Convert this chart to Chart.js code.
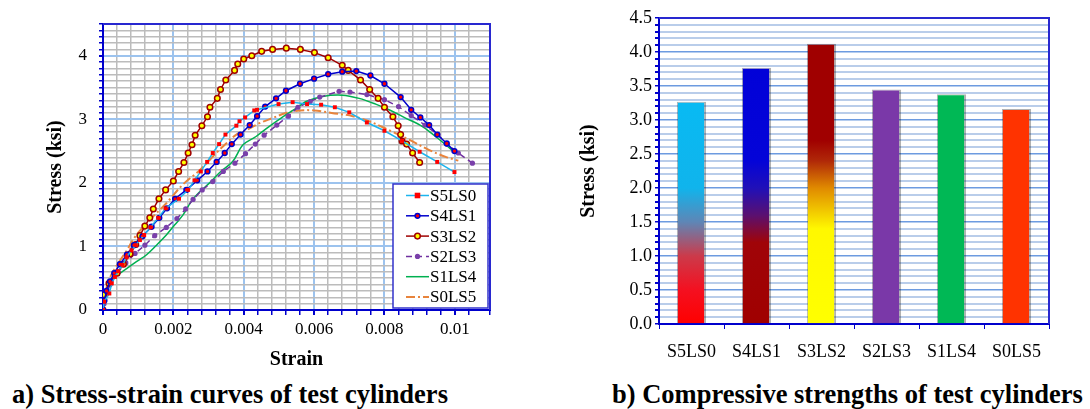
<!DOCTYPE html>
<html>
<head>
<meta charset="utf-8">
<script src="https://cdn.jsdelivr.net/npm/chart.js@4/dist/chart.umd.min.js"></script>
<style>
  body {
    margin: 0;
    background: #fff;
    width: 1090px;
    height: 409px;
    overflow: hidden;
    position: relative;
    font-family: 'Liberation Serif', 'Times New Roman', serif;
  }
  .box { position: absolute; top: 0; height: 375px; }
  #left { left: 0; width: 500px; }
  #right { left: 545px; width: 545px; }
  .caption {
    position: absolute;
    top: 379px;
    line-height: 30px;
    font-weight: bold;
    font-size: 26.5px;
    white-space: nowrap;
    color: #000;
  }
</style>
</head>
<body>
<div class="box" id="left"><canvas id="curves"></canvas></div>
<div class="box" id="right"><canvas id="strengths"></canvas></div>
<div class="caption" style="left:12px">a) Stress-strain curves of test cylinders</div>
<div class="caption" style="left:612px">b) Compressive strengths of test cylinders</div>

<script>
// ---- data ----
const specimens = ["S5LS0", "S4LS1", "S3LS2", "S2LS3", "S1LS4", "S0LS5"];

const s5ls0Strain = [0, 0.00003, 0.00018, 0.00025, 0.00034, 0.00043, 0.00056, 0.00067, 0.00081, 0.00093,
  0.00105, 0.00117, 0.00135, 0.00157, 0.00178, 0.00216, 0.00242, 0.0026, 0.00278, 0.00296,
  0.00312, 0.0033, 0.00348, 0.00379, 0.00388, 0.00404, 0.0043, 0.00438, 0.00499, 0.00539,
  0.0058, 0.0062, 0.00659, 0.007, 0.0075, 0.008, 0.0085, 0.009, 0.0095, 0.00999];
const s5ls0Stress = [0, 0.13, 0.26, 0.42, 0.52, 0.61, 0.71, 0.83, 0.94, 1.02,
  1.1, 1.18, 1.3, 1.45, 1.6, 1.75, 1.89, 2.04, 2.18, 2.33,
  2.47, 2.61, 2.76, 2.9, 2.97, 3.03, 3.14, 3.15, 3.24, 3.27,
  3.24, 3.23, 3.19, 3.11, 2.95, 2.82, 2.66, 2.49, 2.33, 2.17];

const s4ls1Strain = [0, 0.00004, 0.0001, 0.0002, 0.00032, 0.00048, 0.00068, 0.00088, 0.00112, 0.00138,
  0.0016, 0.00182, 0.00205, 0.00237, 0.00268, 0.00297, 0.00323, 0.00346, 0.00366, 0.00391,
  0.00417, 0.00438, 0.00461, 0.00492, 0.0052, 0.0056, 0.006, 0.0064, 0.0068, 0.0072,
  0.0076, 0.008, 0.00846, 0.00876, 0.00902, 0.00927, 0.0095, 0.00977, 0.00999];
const s4ls1Stress = [0, 0.15, 0.3, 0.45, 0.58, 0.72, 0.87, 1.02, 1.16, 1.31,
  1.45, 1.6, 1.75, 1.89, 2.04, 2.18, 2.33, 2.47, 2.61, 2.76,
  2.91, 3.05, 3.2, 3.33, 3.45, 3.56, 3.64, 3.71, 3.75, 3.76,
  3.69, 3.56, 3.35, 3.15, 3.03, 2.91, 2.76, 2.62, 2.5];

const s3ls2Strain = [0, 0.00003, 0.00017, 0.0004, 0.00058, 0.00077, 0.00093, 0.00105, 0.00119, 0.00133,
  0.00143, 0.00159, 0.00178, 0.002, 0.00215, 0.0023, 0.00242, 0.00253, 0.00262, 0.00281,
  0.00297, 0.00304, 0.00325, 0.00334, 0.00349, 0.00374, 0.00383, 0.004, 0.00423, 0.00451,
  0.00482, 0.00521, 0.00561, 0.00601, 0.0064, 0.0068, 0.00697, 0.00732, 0.00758, 0.00782,
  0.008, 0.00824, 0.00839, 0.00846, 0.0085, 0.00863, 0.0088, 0.009];
const s3ls2Stress = [0, 0.24, 0.42, 0.58, 0.72, 0.88, 1.03, 1.17, 1.32, 1.45,
  1.59, 1.75, 1.89, 2.03, 2.18, 2.32, 2.47, 2.6, 2.75, 2.9,
  3.04, 3.19, 3.33, 3.47, 3.62, 3.77, 3.87, 3.95, 4.0, 4.07,
  4.1, 4.12, 4.1, 4.05, 3.97, 3.85, 3.77, 3.62, 3.47, 3.33,
  3.19, 3.04, 2.9, 2.76, 2.66, 2.61, 2.47, 2.32];

const s2ls3Strain = [0, 0.00003, 0.0001, 0.0002, 0.00043, 0.00065, 0.00091, 0.00119, 0.00147, 0.0018,
  0.0021, 0.00235, 0.00256, 0.00282, 0.00312, 0.00342, 0.00375, 0.00405, 0.00433, 0.00458,
  0.00494, 0.00527, 0.00554, 0.00589, 0.00616, 0.00671, 0.00702, 0.0075, 0.008, 0.0084,
  0.00876, 0.00915, 0.00952, 0.00978, 0.0101, 0.0105];
const s2ls3Stress = [0, 0.1, 0.25, 0.4, 0.6, 0.74, 0.89, 1.02, 1.17, 1.3,
  1.44, 1.59, 1.74, 1.89, 2.02, 2.18, 2.31, 2.46, 2.61, 2.75,
  2.91, 3.05, 3.19, 3.28, 3.35, 3.44, 3.43, 3.39, 3.31, 3.2,
  3.06, 2.91, 2.76, 2.61, 2.47, 2.31];

const s1ls4Strain = [0, 0.00005, 0.00015, 0.00034, 0.00062, 0.00095, 0.00124, 0.00152, 0.0018, 0.00204,
  0.00228, 0.00251, 0.00275, 0.00303, 0.00331, 0.00369, 0.00398, 0.00435, 0.00473, 0.00511,
  0.00556, 0.00577, 0.00624, 0.0068, 0.00728, 0.00775, 0.00813, 0.0086, 0.00907, 0.00945,
  0.00974, 0.00995];
const s1ls4Stress = [0, 0.2, 0.39, 0.52, 0.63, 0.76, 0.87, 1.02, 1.18, 1.34,
  1.5, 1.71, 1.86, 2.0, 2.16, 2.34, 2.6, 2.73, 2.89, 3.04,
  3.2, 3.28, 3.36, 3.38, 3.33, 3.24, 3.15, 3.02, 2.89, 2.73,
  2.6, 2.5];

const s0ls5Strain = [0, 0.00005, 0.00015, 0.00039, 0.00067, 0.00091, 0.0013, 0.0018, 0.00228, 0.00275,
  0.00322, 0.0035, 0.00379, 0.00407, 0.00445, 0.00482, 0.0052, 0.0056, 0.006, 0.0065,
  0.0071, 0.00756, 0.00813, 0.0087, 0.00926, 0.00974, 0.0101];
const s0ls5Stress = [0, 0.2, 0.45, 0.7, 0.93, 1.15, 1.4, 1.68, 1.98, 2.2,
  2.47, 2.62, 2.76, 2.83, 2.94, 3.02, 3.1, 3.14, 3.14, 3.1,
  3.05, 2.97, 2.83, 2.68, 2.52, 2.41, 2.35];

const strengths = [3.27, 3.77, 4.12, 3.45, 3.38, 3.16];

// ---- styles ----
const SERIF = "'Liberation Serif', 'Times New Roman', serif";
const AXIS_BLUE = "#0000cc";

const curveStyles = [
  { borderColor: "#1cb4ee", borderWidth: 1.5, pointStyle: "rect", pointRadius: 2.8, pointBackgroundColor: "#ff0000", pointBorderColor: "#ff0000", pointBorderWidth: 0, tension: 0 },
  { borderColor: "#0000cc", borderWidth: 1.5, pointStyle: "circle", pointRadius: 2.4, pointBackgroundColor: "#ff0000", pointBorderColor: "#0000cc", pointBorderWidth: 1.5, tension: 0 },
  { borderColor: "#a00000", borderWidth: 1.5, pointStyle: "circle", pointRadius: 2.8, pointBackgroundColor: "#ffff00", pointBorderColor: "#a00000", pointBorderWidth: 1.5, tension: 0 },
  { borderColor: "#7030a0", borderWidth: 1.5, borderDash: [6, 4], pointStyle: "circle", pointRadius: 2.6, pointBackgroundColor: "#7a40aa", pointBorderColor: "#7a40aa", pointBorderWidth: 0, tension: 0 },
  { borderColor: "#00b050", borderWidth: 1.5, pointRadius: 0, tension: 0.35 },
  { borderColor: "#e8843c", borderWidth: 2, borderDash: [9, 3, 2, 3], pointRadius: 0, tension: 0.35 },
];

const curveData = [
  [s5ls0Strain, s5ls0Stress],
  [s4ls1Strain, s4ls1Stress],
  [s3ls2Strain, s3ls2Stress],
  [s2ls3Strain, s2ls3Stress],
  [s1ls4Strain, s1ls4Stress],
  [s0ls5Strain, s0ls5Stress],
];

// gradient stops for the first three bars, in stress units
const barFills = [
  [[0, "#ff0000"], [0.5, "#f41020"], [1.0, "#cc3a4a"], [1.5, "#5e86b6"], [2.0, "#10b4ec"], [4.5, "#00c0fa"]],
  [[0, "#a00000"], [1.2, "#a00408"], [1.6, "#5a1070"], [2.0, "#2010b8"], [2.4, "#0404d8"], [4.5, "#0000d8"]],
  [[0, "#ffff00"], [1.4, "#fff800"], [2.0, "#e08a00"], [2.4, "#b02808"], [2.7, "#a00000"], [4.5, "#a00000"]],
  "#7a38a8",
  "#00b855",
  "#ff3300",
];

// blue frame on top and right of the plot
const plotFrame = {
  id: "plotFrame",
  afterDatasetsDraw(chart) {
    const { ctx, chartArea: a } = chart;
    ctx.save();
    ctx.strokeStyle = "#2828d0";
    ctx.lineWidth = 2;
    ctx.beginPath();
    ctx.moveTo(a.left, a.top);
    ctx.lineTo(a.right, a.top);
    ctx.lineTo(a.right, a.bottom);
    ctx.stroke();
    ctx.restore();
  },
};

// boxed legend in the lower right corner of the curves plot
const cornerLegend = {
  id: "cornerLegend",
  afterDraw(chart) {
    const { ctx, chartArea: a } = chart;
    const w = 95, h = 124;
    const x0 = a.right - 2 - w, y0 = a.bottom - 2 - h;
    ctx.save();
    ctx.fillStyle = "#fff";
    ctx.fillRect(x0, y0, w, h);
    ctx.strokeStyle = "#3333cc";
    ctx.lineWidth = 1.5;
    ctx.strokeRect(x0, y0, w, h);
    ctx.font = "17px " + SERIF;
    ctx.textBaseline = "middle";
    chart.data.datasets.forEach((ds, i) => {
      const y = y0 + 11.5 + i * 20.3;
      const lx0 = x0 + 13, lx1 = x0 + 36, mx = (lx0 + lx1) / 2;
      ctx.strokeStyle = ds.borderColor;
      ctx.lineWidth = ds.borderWidth;
      ctx.setLineDash(ds.borderDash || []);
      ctx.beginPath();
      ctx.moveTo(lx0, y);
      ctx.lineTo(lx1, y);
      ctx.stroke();
      ctx.setLineDash([]);
      if (ds.pointRadius > 0) {
        const r = ds.pointRadius;
        ctx.fillStyle = ds.pointBackgroundColor;
        ctx.strokeStyle = ds.pointBorderColor;
        ctx.lineWidth = ds.pointBorderWidth;
        ctx.beginPath();
        if (ds.pointStyle === "rect") ctx.rect(mx - r, y - r, 2 * r, 2 * r);
        else ctx.arc(mx, y, r, 0, Math.PI * 2);
        ctx.fill();
        if (ds.pointBorderWidth) ctx.stroke();
      }
      ctx.fillStyle = "#000";
      ctx.fillText(ds.label, x0 + 37, y + 1);
    });
    ctx.restore();
  },
};

Chart.defaults.font.family = SERIF;
Chart.defaults.color = "#000";

new Chart(document.getElementById("curves"), {
  type: "scatter",
  data: {
    datasets: specimens.map((name, i) => ({
      label: name,
      data: curveData[i][0].map((x, j) => ({ x: x, y: curveData[i][1][j] })),
      showLine: true,
      fill: false,
      ...curveStyles[i],
    })),
  },
  options: {
    responsive: true,
    maintainAspectRatio: false,
    animation: false,
    layout: { padding: { top: 24, right: 10, left: 0, bottom: 0 } },
    plugins: { legend: { display: false }, tooltip: { enabled: false } },
    scales: {
      x: {
        type: "linear",
        min: 0,
        max: 0.011,
        afterFit: (s) => { s.height = 65; },
        ticks: {
          stepSize: 0.0004,
          autoSkip: false,
          maxRotation: 0,
          padding: 4,
          font: { size: 17 },
          callback: (v) => (Math.round(v * 10000) % 20 === 0 ? String(+v.toFixed(3)) : ""),
        },
        grid: {
          color: (c) => (Math.round(c.tick.value * 10000) % 20 === 0 ? "#9cc3ee" : "#bcbcbc"),
          lineWidth: (c) => (Math.round(c.tick.value * 10000) % 20 === 0 ? 2 : 1.5),
          tickColor: AXIS_BLUE,
          tickLength: 5,
        },
        border: { color: AXIS_BLUE, width: 2 },
        title: { display: true, text: "Strain", font: { size: 20, weight: "bold" }, padding: { top: 0, bottom: 3 } },
      },
      y: {
        min: 0,
        max: 4.5,
        afterFit: (s) => { s.width = 103; },
        ticks: {
          stepSize: 0.1,
          autoSkip: false,
          padding: 12,
          font: { size: 17 },
          callback: (v) => (Math.abs(v - Math.round(v)) < 1e-6 ? String(Math.round(v)) : ""),
        },
        grid: {
          color: (c) => (Math.abs(c.tick.value - Math.round(c.tick.value)) < 1e-6 ? "#9cc3ee" : "#bcbcbc"),
          lineWidth: (c) => (Math.abs(c.tick.value - Math.round(c.tick.value)) < 1e-6 ? 2 : 1.5),
          tickColor: AXIS_BLUE,
          tickLength: 4,
        },
        border: { color: AXIS_BLUE, width: 2 },
        title: { display: true, text: "Stress (ksi)", font: { size: 20, weight: "bold" }, padding: { top: 44, bottom: 0 } },
      },
    },
  },
  plugins: [plotFrame, cornerLegend],
});

function barColor(c) {
  const fill = barFills[c.dataIndex];
  if (typeof fill === "string") return fill;
  const y = c.chart.scales.y;
  if (!y || !c.chart.chartArea) return fill[0][1];
  const y0 = y.getPixelForValue(0), y1 = y.getPixelForValue(4.5);
  const g = c.chart.ctx.createLinearGradient(0, y0, 0, y1);
  fill.forEach(([v, col]) => g.addColorStop(v / 4.5, col));
  return g;
}

new Chart(document.getElementById("strengths"), {
  type: "bar",
  data: {
    labels: specimens,
    datasets: [{
      data: strengths,
      backgroundColor: barColor,
      borderColor: "rgba(0,0,0,0.3)",
      borderWidth: { left: 1, right: 2, top: 1, bottom: 0 },
      barPercentage: 0.45,
      categoryPercentage: 1,
    }],
  },
  options: {
    responsive: true,
    maintainAspectRatio: false,
    animation: false,
    layout: { padding: { top: 18, right: 41, left: 0, bottom: 0 } },
    plugins: { legend: { display: false }, tooltip: { enabled: false } },
    scales: {
      x: {
        afterFit: (s) => { s.height = 51; },
        ticks: { padding: 12, maxRotation: 0, font: { size: 18 } },
        grid: { offset: true, drawOnChartArea: false, tickColor: AXIS_BLUE, tickLength: 5 },
        border: { color: AXIS_BLUE, width: 2 },
      },
      y: {
        min: 0,
        max: 4.5,
        afterFit: (s) => { s.width = 114; },
        ticks: {
          stepSize: 0.1,
          autoSkip: false,
          padding: 3,
          font: { size: 18 },
          callback: (v) => (Math.round(v * 10) % 5 === 0 ? v.toFixed(1) : ""),
        },
        grid: {
          color: (c) => (Math.round(c.tick.value * 10) % 5 === 0 ? "#6d9be0" : "#b9cdea"),
          lineWidth: (c) => (Math.round(c.tick.value * 10) % 5 === 0 ? 1.5 : 2),
          tickColor: AXIS_BLUE,
          tickLength: 4,
        },
        border: { color: AXIS_BLUE, width: 2 },
        title: { display: true, text: "Stress (ksi)", font: { size: 20, weight: "bold" }, padding: { top: 32, bottom: 0 } },
      },
    },
  },
  plugins: [plotFrame],
});
</script>
</body>
</html>
